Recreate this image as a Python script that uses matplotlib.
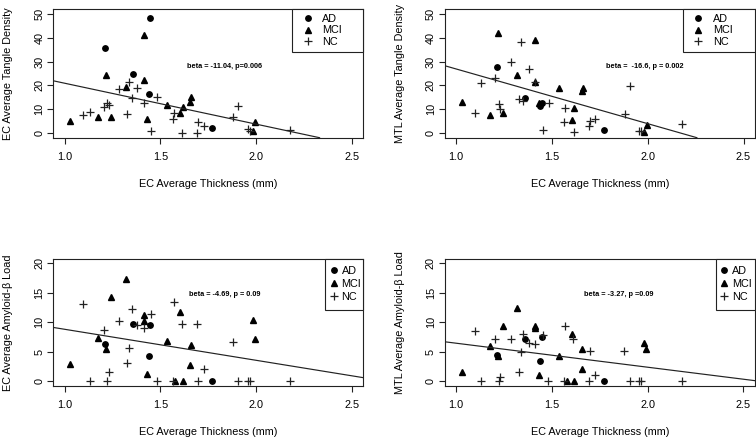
import matplotlib
matplotlib.use("Agg")
import matplotlib.pyplot as plt
import numpy as np

plt.rcParams['font.family'] = ['Liberation Sans', 'DejaVu Sans']

nan = np.nan

# EC average thickness (mm), one value per subject
ad_thick = [1.211, 1.358, 1.440, 1.447, 1.770]
mci_thick = [1.028, 1.176, 1.216, 1.243, 1.320, 1.413, 1.413, 1.432,
             1.536, 1.577, 1.604, 1.617, 1.655, 1.660, 1.983, 1.994]
nc_thick = [1.096, 1.130, 1.203, 1.222, 1.231, 1.284, 1.326, 1.337,
            1.350, 1.380, 1.412, 1.452, 1.482, 1.563, 1.570, 1.613,
            1.692, 1.697, 1.727, 1.879, 1.907, 1.957, 1.966, 2.179]

# EC tangle density
ad_ec_tangle = [35.7, 24.6, 16.2, 48.3, 2.1]
mci_ec_tangle = [5.1, 6.6, 24.2, 6.6, 19.2, 22.2, 41.0, 5.9,
                 11.8, nan, 8.3, 11.1, 12.9, 15.3, 0.8, 4.6]
nc_ec_tangle = [7.7, 8.6, 11.1, 12.6, 11.8, 18.4, 8.1, 21.6,
                14.5, 19.1, 12.5, 1.0, 15.0, 6.0, 8.3, 0.1,
                0.1, 4.8, 2.9, 6.6, 11.4, 1.7, 1.0, 1.3]

# MTL tangle density
ad_mtl_tangle = [27.8, 14.5, 11.4, 12.6, 1.4]
mci_mtl_tangle = [12.9, 7.4, 42.1, 8.4, 24.3, 38.9, 21.3, 12.8,
                  19.1, nan, 5.5, 10.4, 17.6, 18.8, 0.4, 3.5]
nc_mtl_tangle = [8.3, 20.8, 23.3, 12.1, 10.1, 29.9, 14.3, 38.1,
                 13.5, 27.0, 21.3, 1.3, 12.8, 4.8, 10.3, 0.6,
                 2.9, 5.2, 6.0, 8.0, 19.8, 0.8, 0.8, 3.9]

# EC amyloid-beta load
ad_ec_amyloid = [6.35, 9.7, 4.3, 9.6, 0.0]
mci_ec_amyloid = [3.0, 7.4, 5.4, 14.3, 17.3, 11.3, 10.3, 1.3,
                  6.8, 0.0, 11.7, 0.0, 2.8, 6.1, 10.4, 7.1]
nc_ec_amyloid = [13.1, 0.0, 8.7, 0.0, 1.6, 10.3, 3.1, 5.7,
                 12.3, 9.5, 9.0, 11.5, 0.0, 0.0, 13.4, 9.8,
                 9.8, 0.0, 2.0, 6.7, 0.0, 0.0, 0.0, 0.0]

# MTL amyloid-beta load
ad_mtl_amyloid = [4.4, 7.1, 3.4, 7.5, 0.0]
mci_mtl_amyloid = [1.5, 6.0, 4.3, 9.4, 12.5, 9.3, 9.0, 1.0,
                   4.3, 0.0, 8.0, 0.0, 2.0, 5.5, 6.5, 5.4]
nc_mtl_amyloid = [8.5, 0.0, 7.2, 0.0, 0.8, 7.2, 1.6, 4.9,
                  8.0, 6.5, 6.3, 7.8, 0.0, 0.0, 9.4, 7.2,
                  0.0, 5.2, 1.0, 5.2, 0.0, 0.0, 0.0, 0.0]

# fitted lines (intercept, slope) and stats text
fit_ec_tangle = (38.1, -17.2)
fit_mtl_tangle = (49.9, -23.0)
fit_ec_amyloid = (14.08, -5.26)
fit_mtl_amyloid = (10.53, -4.07)

group_labels = ['AD', 'MCI', 'NC']

W, H = 756, 440
fig = plt.figure(figsize=(W / 100, H / 100), dpi=100)


def px_axes(left, top, right, bottom):
    return fig.add_axes([left / W, 1 - bottom / H, (right - left) / W, (bottom - top) / H])


panels = [
    dict(box=(53.3, 9.3, 363.3, 137.7), ys=(ad_ec_tangle, mci_ec_tangle, nc_ec_tangle),
         fit=fit_ec_tangle, ylabel='EC Average Tangle Density', ymax=50, ystep=10,
         note='beta = -11.04, p=0.006', note_xy=(1.834, 27.9), leg=(292.3, 'wide')),
    dict(box=(444.7, 9.3, 755.0, 137.7), ys=(ad_mtl_tangle, mci_mtl_tangle, nc_mtl_tangle),
         fit=fit_mtl_tangle, ylabel='MTL Average Tangle Density', ymax=50, ystep=10,
         note='beta =  -16.6, p = 0.002', note_xy=(1.987, 27.9), leg=(683.0, 'wide')),
    dict(box=(53.3, 258.7, 363.3, 386.0), ys=(ad_ec_amyloid, mci_ec_amyloid, nc_ec_amyloid),
         fit=fit_ec_amyloid, ylabel='EC Average Amyloid-β Load', ymax=20, ystep=5,
         note='beta = -4.69, p = 0.09', note_xy=(1.835, 14.8), leg=(325.3, 'narrow')),
    dict(box=(444.7, 258.7, 754.7, 386.0), ys=(ad_mtl_amyloid, mci_mtl_amyloid, nc_mtl_amyloid),
         fit=fit_mtl_amyloid, ylabel='MTL Average Amyloid-β Load', ymax=20, ystep=5,
         note='beta = -3.27, p =0.09', note_xy=(1.852, 14.8), leg=(715.7, 'narrow')),
]

fs = 7.8
for p in panels:
    left, top, right, bottom = p['box']
    ax = px_axes(left, top, right, bottom)
    ad_y, mci_y, nc_y = p['ys']

    ax.plot(ad_thick, ad_y, 'o', color='black', ms=3.9, label=group_labels[0])
    ax.plot(mci_thick, mci_y, '^', color='black', ms=4.6, label=group_labels[1])
    ax.plot(nc_thick, nc_y, '+', color='#222222', ms=6.0, mew=0.9, label=group_labels[2])

    b0, b1 = p['fit']
    ax.axline((0, b0), slope=b1, color='#222222', lw=0.85)

    ax.text(p['note_xy'][0], p['note_xy'][1], p['note'], fontsize=5.3, fontweight='bold',
            ha='center', va='center')

    ymax = p['ymax']
    ax.set_xlim(0.94, 2.56)
    ax.set_ylim(-0.04 * ymax, 1.04 * ymax)
    ax.set_xticks([1.0, 1.5, 2.0, 2.5])
    ax.set_yticks(np.arange(0, ymax + 1, p['ystep']))
    for s in ax.spines.values():
        s.set_linewidth(0.8)
        s.set_color('#222222')
    ax.tick_params(axis='both', direction='out', length=4.3, width=0.8, labelsize=fs,
                   color='#222222')
    ax.tick_params(axis='x', pad=6.0)
    ax.tick_params(axis='y', pad=2.2)
    plt.setp(ax.get_yticklabels(), rotation=90, va='center')

    ax.set_xlabel('EC Average Thickness (mm)', fontsize=fs)
    ax.set_ylabel(p['ylabel'], fontsize=fs)
    aw = right - left
    ah = bottom - top
    ax.xaxis.set_label_coords(0.5, -(179.0 - 137.7) / ah)
    ax.yaxis.set_label_coords(-(53.3 - 13.4) / aw, 0.5)

    leg_left, kind = p['leg']
    x0 = (leg_left - left) / aw
    if kind == 'wide':
        lkw = dict(borderpad=0.42, handlelength=2.0, handletextpad=0.35, labelspacing=0.15)
    else:
        lkw = dict(borderpad=0.7, handlelength=0.2, handletextpad=0.6, labelspacing=0.27)
    leg = ax.legend(loc='upper right', bbox_to_anchor=(x0, 0.0, 1 - x0, 1.0), mode='expand',
                    borderaxespad=0, fancybox=False, framealpha=1, edgecolor='#222222',
                    fontsize=fs, numpoints=1, **lkw)
    leg.get_frame().set_linewidth(0.8)

fig.savefig('out.png', dpi=100)
